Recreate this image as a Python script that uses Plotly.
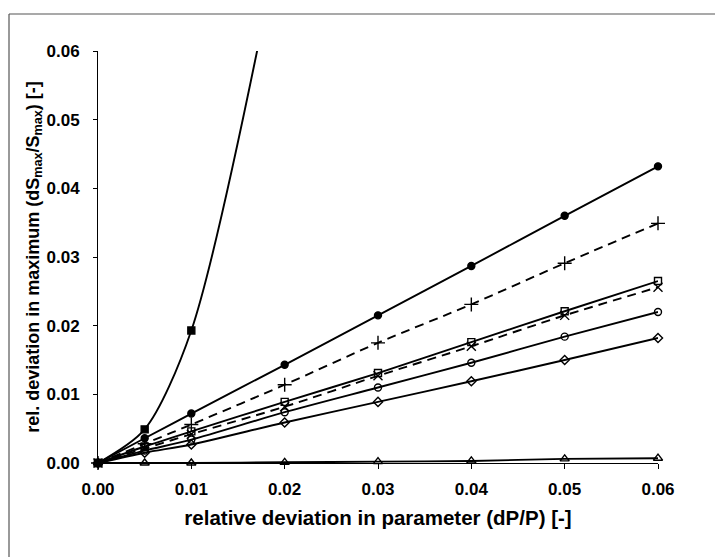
import plotly.graph_objects as go

x_all = [0.0, 0.005, 0.01, 0.02, 0.03, 0.04, 0.05, 0.06]

# series values
sq_filled_x = [0.0, 0.005, 0.01, 0.02, 0.03]
sq_filled_y = [0.0, 0.0049, 0.0193, 0.08, 0.16]
circ_filled = [0.0, 0.0036, 0.0072, 0.0143, 0.0215, 0.0287, 0.0360, 0.0432]
plus_vals = [0.0, 0.0028, 0.0056, 0.0114, 0.0175, 0.0231, 0.0291, 0.0349]
sq_open = [0.0, 0.0024, 0.0046, 0.0089, 0.0131, 0.0176, 0.0221, 0.0265]
x_vals = [0.0, 0.0021, 0.0042, 0.0082, 0.0127, 0.0170, 0.0215, 0.0256]
circ_open = [0.0, 0.0018, 0.0034, 0.0074, 0.0110, 0.0146, 0.0184, 0.0220]
diamond_vals = [0.0, 0.0015, 0.0027, 0.0059, 0.0089, 0.0119, 0.0150, 0.0182]
triangle_vals = [0.0, 0.0, 0.0, 0.0001, 0.0002, 0.0003, 0.0006, 0.0007]

x_ticks = [0.0, 0.01, 0.02, 0.03, 0.04, 0.05, 0.06]
y_ticks = [0.0, 0.01, 0.02, 0.03, 0.04, 0.05, 0.06]

fig = go.Figure()

def add(x, y, symbol, size, dash="solid", lw=1.9):
    fig.add_trace(go.Scatter(
        x=x, y=y, mode="lines+markers",
        line=dict(color="black", width=lw, dash=dash, shape="spline", smoothing=0.8),
        marker=dict(symbol=symbol, size=size, color="black",
                    line=dict(color="black", width=1.4)),
        cliponaxis=False, showlegend=False))

add(sq_filled_x, sq_filled_y, "square", 7)
add(x_all, circ_filled, "circle", 7)
add(x_all, plus_vals, "cross-thin-open", 10, dash="9px,6px")
add(x_all, sq_open, "square-open", 7)
add(x_all, x_vals, "x-thin-open", 9, dash="9px,6px")
add(x_all, circ_open, "circle-open", 7)
add(x_all, diamond_vals, "diamond-open", 7)
add(x_all, triangle_vals, "triangle-up-open", 8)

L, R, T, B = 98, 57, 51, 94
W, H = 715, 557
pw, ph = W - L - R, H - T - B

def px(v):
    return (v - L) / pw

def py(v):
    return (H - B - v) / ph

frame_col = "#555555"
fig.add_shape(type="line", xref="paper", yref="paper",
              x0=px(9), x1=px(720), y0=py(14), y1=py(14),
              line=dict(color=frame_col, width=1.2))
fig.add_shape(type="line", xref="paper", yref="paper",
              x0=px(9), x1=px(9), y0=py(14), y1=py(560),
              line=dict(color=frame_col, width=1.2))

font_tick = dict(family="Liberation Sans, Arial", size=17, color="black", weight="bold")
font_xtitle = dict(family="Liberation Sans, Arial", size=20.5, color="black", weight="bold")
font_ytitle = dict(family="Liberation Sans, Arial", size=18, color="black", weight="bold")

fig.update_layout(
    width=W, height=H,
    margin=dict(l=L, r=R, t=T, b=B),
    paper_bgcolor="white", plot_bgcolor="white",
    xaxis=dict(range=[0, 0.06], tickvals=x_ticks, ticktext=[f"{v:.2f}" for v in x_ticks],
               showgrid=False, zeroline=False, showline=True, linecolor="black", linewidth=1,
               ticks="outside", ticklen=5, tickcolor="black", tickfont=font_tick,
               ticklabelstandoff=6,
               title=dict(text="relative deviation in parameter (dP/P) [-]", font=font_xtitle, standoff=12)),
    yaxis=dict(range=[0, 0.06], tickvals=y_ticks, ticktext=[f"{v:.2f}" for v in y_ticks],
               showgrid=False, zeroline=False, showline=True, linecolor="black", linewidth=1,
               ticks="outside", ticklen=4, tickcolor="black", tickfont=font_tick,
               ticklabelstandoff=10,
               title=dict(text="rel. deviation in maximum (dS<sub>max</sub>/S<sub>max</sub>) [-]",
                          font=font_ytitle, standoff=2)),
)

fig.write_html("out.html")
